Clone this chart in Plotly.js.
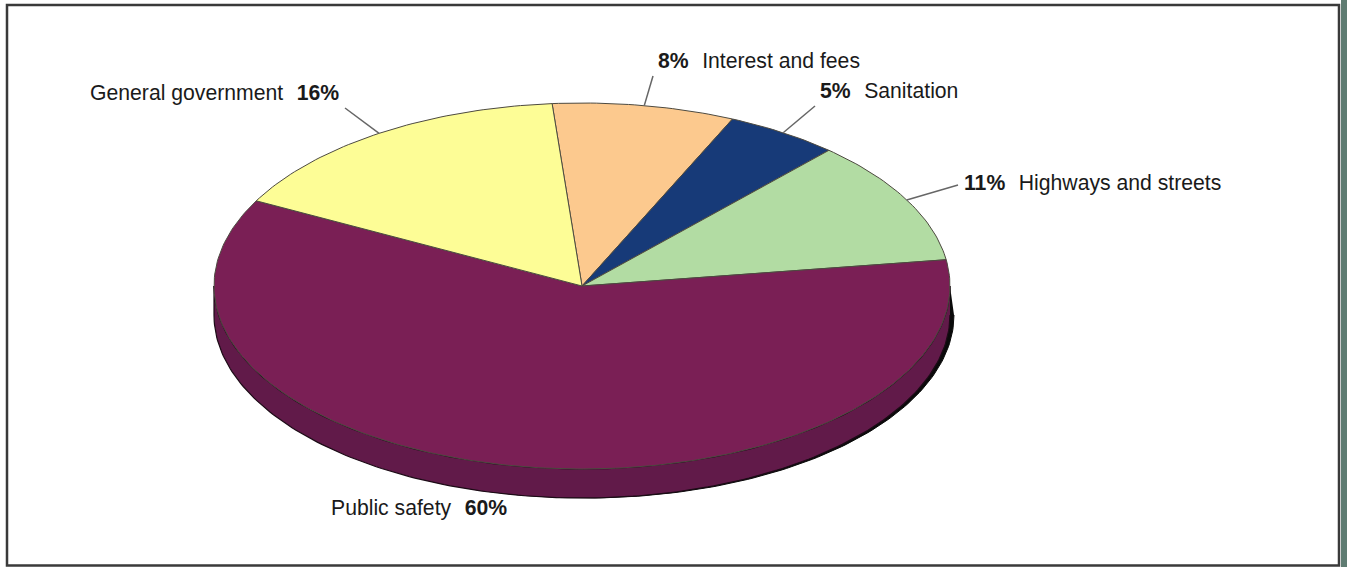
<!DOCTYPE html>
<html>
<head>
<meta charset="utf-8">
<script src="https://cdn.plot.ly/plotly-3.0.1.min.js"></script>
<style>html,body{margin:0;padding:0;background:#fff}#chart{width:1347px;height:567px}</style>
</head>
<body>
<div id="chart"></div>
<script>
// Expenditure shares by function, clockwise from the first slice
const categories = ['Interest and fees', 'Sanitation', 'Highways and streets', 'Public safety', 'General government'];
const shares = [8, 5, 11, 60, 16];
const sliceColors = ['#fcc98e', '#173a78', '#b2dca3', '#7a1f55', '#fdfd96'];

// Tilted-disc geometry, in plot units
const cx = 582, cy = 286, rx = 368, ry = 183, depth = 29;
const startDeg = -4.66;

// Label placement: text anchor, side, and where each leader line ends
const labelX = [656, 818, 962, 329, 88];
const labelY = [60.5, 90.5, 182.5, 507.5, 92.5];
const labelOrder = ['value', 'value', 'value', 'name', 'name'];
const leaderEndX = [653, 815, 958, null, 345];
const leaderEndY = [76, 106, 185, null, 108];

const rad = d => d * Math.PI / 180;
const px = d => cx + rx * Math.sin(rad(d));
const py = d => cy - ry * Math.cos(rad(d));

function arc(from, to) {
  const n = Math.max(2, Math.ceil(Math.abs(to - from)));
  const a = [];
  for (let i = 0; i <= n; i++) a.push(from + (to - from) * i / n);
  return a;
}

const total = shares.reduce((s, v) => s + v, 0);
let running = startDeg;
const spans = shares.map(v => {
  const from = running;
  running += v / total * 360;
  return [from, running];
});

const traces = [];

// Side wall: only the front half of the disc shows below the top face
function wallTrace(dx, dy, fill, line, width) {
  const front = arc(90, 270);
  const back = front.slice().reverse();
  return {
    type: 'scatter', mode: 'lines', fill: 'toself', fillcolor: fill,
    x: front.map(d => px(d) + dx).concat(back.map(px)),
    y: front.map(d => py(d) + dy + depth).concat(back.map(py)),
    line: {color: line, width: width}, hoverinfo: 'skip', showlegend: false
  };
}
traces.push(wallTrace(4, 0, '#0a0a0a', '#0a0a0a', 1));
traces.push(wallTrace(0, 0, '#611a49', '#1c0b16', 1.2));

// Top face
spans.forEach((span, i) => {
  const a = arc(span[0], span[1]);
  traces.push({
    type: 'scatter', mode: 'lines', fill: 'toself', fillcolor: sliceColors[i],
    name: categories[i],
    x: [cx].concat(a.map(px), [cx]),
    y: [cy].concat(a.map(py), [cy]),
    line: {color: '#4d4a40', width: 1}, hoverinfo: 'skip', showlegend: false
  });
});

const annotations = categories.map((name, i) => {
  const pct = '<b>' + shares[i] + '%</b>';
  const gap = '&nbsp;&nbsp;&#8202;';
  return {
    x: labelX[i], y: labelY[i], xref: 'x', yref: 'y',
    xanchor: 'left', yanchor: 'middle', showarrow: false,
    text: labelOrder[i] === 'value' ? pct + gap + name : name + gap + pct,
    font: {family: 'Liberation Sans, Arial, sans-serif', size: 21.2, color: '#1a1a1a'}
  };
});

const shapes = [];
spans.forEach((span, i) => {
  if (leaderEndX[i] === null) return;
  const mid = (span[0] + span[1]) / 2;
  shapes.push({type: 'line', xref: 'x', yref: 'y', layer: 'above',
    x0: px(mid), y0: py(mid), x1: leaderEndX[i], y1: leaderEndY[i],
    line: {color: '#666666', width: 1.5}});
});
// Panel frame and the strip beyond it
shapes.push({type: 'rect', xref: 'x', yref: 'y', layer: 'below',
  x0: 1341, x1: 1347, y0: 0, y1: 567, fillcolor: '#5f7c72', line: {width: 0}});
shapes.push({type: 'rect', xref: 'x', yref: 'y', layer: 'below',
  x0: 7, x1: 1339, y0: 5, y1: 565.5, fillcolor: '#ffffff', line: {color: '#3a3a3a', width: 2.5}});

Plotly.newPlot('chart', traces, {
  width: 1347, height: 567,
  margin: {l: 0, r: 0, t: 0, b: 0},
  paper_bgcolor: '#ffffff', plot_bgcolor: 'rgba(0,0,0,0)',
  showlegend: false,
  xaxis: {range: [0, 1347], visible: false, fixedrange: true},
  yaxis: {range: [567, 0], visible: false, fixedrange: true},
  annotations, shapes
}, {displayModeBar: false, staticPlot: true});
</script>
</body>
</html>
